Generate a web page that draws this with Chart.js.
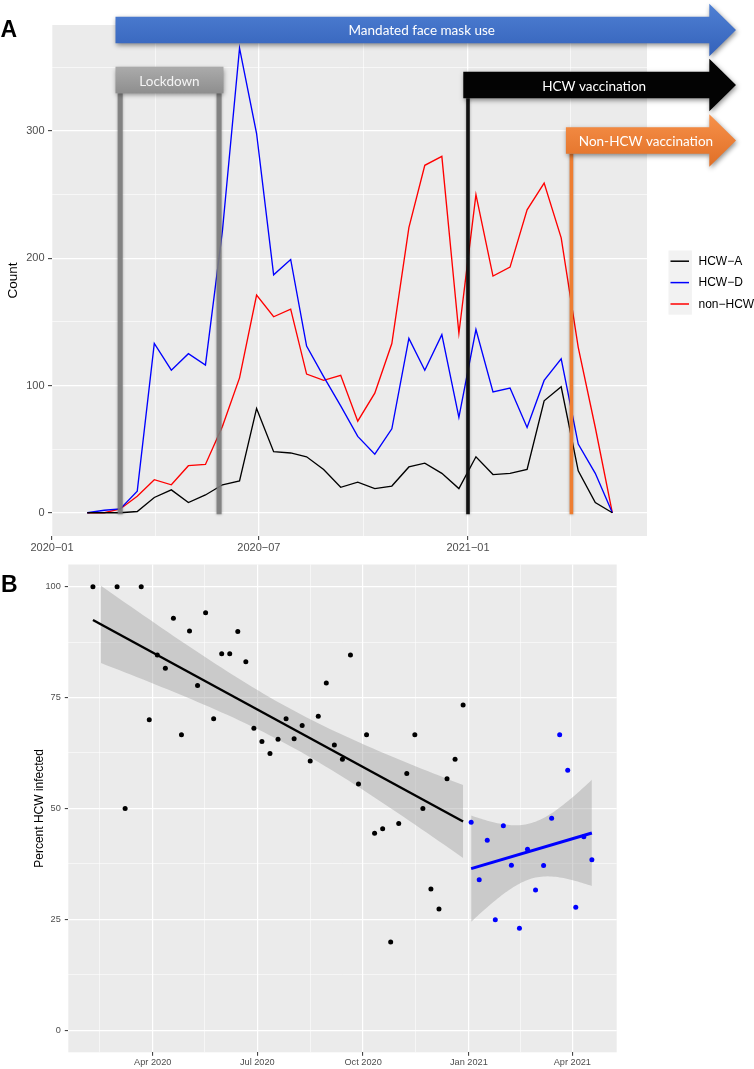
<!DOCTYPE html>
<html><head><meta charset="utf-8">
<script src="https://cdn.jsdelivr.net/npm/chart.js@4/dist/chart.umd.min.js"></script>
<style>
html,body{margin:0;padding:0;background:#fff;width:754px;height:1069px;overflow:hidden}
#cA{position:absolute;left:0;top:0}
#cB{position:absolute;left:0;top:555px}
</style></head><body>
<canvas id="cA" width="754" height="560"></canvas>
<canvas id="cB" width="754" height="514"></canvas>
<script>
// ---------- Panel A data ----------
const periodDates = ['2020-02-01','2020-02-16','2020-03-01','2020-03-16','2020-03-31','2020-04-15','2020-04-30','2020-05-15','2020-05-30','2020-06-14','2020-06-29','2020-07-14','2020-07-29','2020-08-12','2020-08-27','2020-09-11','2020-09-26','2020-10-11','2020-10-26','2020-11-10','2020-11-24','2020-12-09','2020-12-24','2021-01-08','2021-01-23','2021-02-07','2021-02-22','2021-03-09','2021-03-24','2021-04-08','2021-04-23','2021-05-08'];
const hcwA   = [0,0,0,1,12,18,8,14,22,25,82,48,47,44,34,20,24,19,21,36,39,31,19,44,30,31,34,88,99,33,8,0];
const hcwD   = [0,2,3,17,133,112,125,116,222,365,298,187,199,131,107,84,60,46,66,137,112,140,75,144,95,98,67,104,121,54,31,0];
const nonHcw = [0,0,3,13,26,22,37,38,68,106,171,154,160,109,104,108,72,94,133,224,273,280,141,250,186,193,238,259,216,130,67,0];
const seriesLabels = ['HCW\u2212A','HCW\u2212D','non\u2212HCW'];
const countMajor = [0,100,200,300];
const countMinor = [50,150,250,350];
const monthMajorDates  = ['2020-01-01','2020-07-01','2021-01-01'];
const monthMajorLabels = ['2020\u221201','2020\u221207','2021\u221201'];
const monthMinorDates  = ['2020-04-01','2020-10-01','2021-04-01'];
// events
const eventLabels = ['Mandated face mask use','Lockdown','HCW vaccination','Non-HCW vaccination'];
const lockdownDates = ['2020-03-01','2020-05-27'];
const hcwVaccDate = '2021-01-01';
const nonHcwVaccDate = '2021-04-02';

// ---------- Panel B data ----------
const preWeeks = ['2020-02-09','2020-03-01','2020-03-08','2020-03-22','2020-03-29','2020-04-05','2020-04-12','2020-04-19','2020-04-26','2020-05-03','2020-05-10','2020-05-17','2020-05-24','2020-05-31','2020-06-07','2020-06-14','2020-06-21','2020-06-28','2020-07-05','2020-07-12','2020-07-19','2020-07-26','2020-08-02','2020-08-09','2020-08-16','2020-08-23','2020-08-30','2020-09-06','2020-09-13','2020-09-20','2020-09-27','2020-10-04','2020-10-11','2020-10-18','2020-10-25','2020-11-01','2020-11-08','2020-11-15','2020-11-22','2020-11-29','2020-12-06','2020-12-13','2020-12-20','2020-12-27'];
const prePct = [100,100,50,100,70.0,84.6,81.6,92.9,66.6,90.0,77.7,94.1,70.2,84.9,84.9,89.9,83.1,68.1,65.1,62.4,65.6,70.2,65.7,68.7,60.7,70.8,78.3,64.3,61.1,84.6,55.5,66.6,44.4,45.4,19.9,46.6,57.9,66.6,50.0,31.8,27.3,56.7,61.1,73.3];
const postWeeks = ['2021-01-03','2021-01-10','2021-01-17','2021-01-24','2021-01-31','2021-02-07','2021-02-14','2021-02-21','2021-02-28','2021-03-07','2021-03-14','2021-03-21','2021-03-28','2021-04-04','2021-04-11','2021-04-18'];
const postPct = [46.9,33.9,42.8,24.9,46.1,37.2,23.0,40.8,31.6,37.1,47.8,66.6,58.6,27.7,43.6,38.4];
const preBandFrom = '2020-02-16';
const pctMajor = [0,25,50,75,100];
const pctMinor = [12.5,37.5,62.5,87.5];
const qMajorDates  = ['2020-04-01','2020-07-01','2020-10-01','2021-01-01','2021-04-01'];
const qMajorLabels = ['Apr 2020','Jul 2020','Oct 2020','Jan 2021','Apr 2021'];
const qMinorDates  = ['2020-02-15','2020-05-16','2020-08-16','2020-11-16','2021-02-15'];

// ---------- helpers ----------
const DAY0 = Date.UTC(2020,0,1);
function dayOf(s){const p=s.split('-').map(Number);return (Date.UTC(p[0],p[1]-1,p[2])-DAY0)/864e5;}
const FONT = "'Liberation Sans', Arial, Helvetica, sans-serif";
const TICKCOL = '#4d4d4d';

function tQuant(df){ // Cornish-Fisher expansion for t(0.975)
  const z=1.959964, z3=z*z*z, z5=z3*z*z, z7=z5*z*z;
  return z+(z3+z)/(4*df)+(5*z5+16*z3+3*z)/(96*df*df)+(3*z7+19*z5+17*z3-15*z)/(384*df*df*df);
}
function lmFit(xs, ys){
  const n=xs.length; let mx=0,my=0; for(let i=0;i<n;i++){mx+=xs[i];my+=ys[i];} mx/=n; my/=n;
  let sxx=0,sxy=0; for(let i=0;i<n;i++){sxx+=(xs[i]-mx)**2; sxy+=(xs[i]-mx)*(ys[i]-my);}
  const b=sxy/sxx, a=my-b*mx; let sse=0; for(let i=0;i<n;i++){const r=ys[i]-(a+b*xs[i]); sse+=r*r;}
  const s=Math.sqrt(sse/(n-2)), t=tQuant(n-2);
  const pred=x=>a+b*x, half=x=>t*s*Math.sqrt(1/n+(x-mx)**2/sxx);
  return {pred, half};
}
function band(fit, from, to){
  const up=[], lo=[]; const N=60;
  for(let k=0;k<=N;k++){const x=from+(to-from)*k/N; up.push({x,y:fit.pred(x)+fit.half(x)}); lo.push({x,y:fit.pred(x)-fit.half(x)});}
  return {up,lo};
}
const bgPlugin = {id:'bg', beforeDraw(chart){const a=chart.chartArea,c=chart.ctx;c.save();c.fillStyle='#ebebeb';c.fillRect(a.left,a.top,a.right-a.left,a.bottom-a.top);c.restore();}};

function isIn(v, arr){return arr.some(a=>Math.abs(a-v)<1e-6);}

// ---------- Chart A ----------
const aMajX = monthMajorDates.map(dayOf), aMinX = monthMinorDates.map(dayOf);
function arrowPath(c, x0, cy, tip, bodyH, headH, headL){
  c.beginPath(); c.moveTo(x0, cy-bodyH/2); c.lineTo(tip-headL, cy-bodyH/2); c.lineTo(tip-headL, cy-headH/2);
  c.lineTo(tip, cy); c.lineTo(tip-headL, cy+headH/2); c.lineTo(tip-headL, cy+bodyH/2); c.lineTo(x0, cy+bodyH/2); c.closePath();
}
function grad(c, y0, y1, cTop, cBot){const g=c.createLinearGradient(0,y0,0,y1); g.addColorStop(0,cTop); g.addColorStop(1,cBot); return g;}
const annotPlugin = {id:'annot', afterDatasetsDraw(chart){
  const c=chart.ctx, xs=chart.scales.x, ys=chart.scales.y, area=chart.chartArea;
  const X=d=>xs.getPixelForValue(dayOf(d));
  const yBase=ys.getPixelForValue(0)+1.5;
  const tip=chart.width-18, bodyH=26.6, headH=52.6, headL=26.7;
  const cyMask=area.top+5, cyLock=area.top+55, cyHcw=area.top+60, cyNon=area.top+115.5;
  c.save();
  // vertical lines
  c.shadowColor='rgba(0,0,0,0.35)'; c.shadowBlur=3;
  c.lineCap='butt';
  c.strokeStyle='rgba(125,125,125,0.9)'; c.lineWidth=5;
  lockdownDates.forEach(d=>{c.beginPath(); c.moveTo(X(d), cyLock+bodyH/2); c.lineTo(X(d), yBase); c.stroke();});
  c.strokeStyle='#111'; c.lineWidth=3.6;
  c.beginPath(); c.moveTo(X(hcwVaccDate), cyHcw+bodyH/2); c.lineTo(X(hcwVaccDate), yBase); c.stroke();
  c.strokeStyle='#ee7d31'; c.lineWidth=3.6;
  c.beginPath(); c.moveTo(X(nonHcwVaccDate), cyNon+bodyH/2); c.lineTo(X(nonHcwVaccDate), yBase); c.stroke();
  // boxes / arrows
  c.shadowColor='rgba(0,0,0,0.45)'; c.shadowBlur=5; c.shadowOffsetX=1; c.shadowOffsetY=2;
  const x0Lock=X(lockdownDates[0])-4.7, x1Lock=X(lockdownDates[1])+4.4;
  // mask
  arrowPath(c, x0Lock, cyMask, tip, bodyH, headH, headL);
  c.fillStyle=grad(c, cyMask-headH/2, cyMask+headH/2, '#4f80d4', '#3462ba'); c.fill();
  // lockdown
  c.fillStyle=grad(c, cyLock-bodyH/2, cyLock+bodyH/2, '#ababab', '#8e8e8e');
  c.fillRect(x0Lock, cyLock-bodyH/2, x1Lock-x0Lock, bodyH);
  // HCW vacc
  const x0H=X(hcwVaccDate)-4.7;
  arrowPath(c, x0H, cyHcw, tip, bodyH, headH, headL); c.fillStyle='#030303'; c.fill();
  const x0N=X(nonHcwVaccDate)-5.5;
  arrowPath(c, x0N, cyNon, tip, bodyH, headH, headL);
  c.fillStyle=grad(c, cyNon-headH/2, cyNon+headH/2, '#f7914a', '#e06f26'); c.fill();
  c.restore();
  // texts
  c.save(); c.fillStyle='#fff'; c.textBaseline='middle'; c.textAlign='center';
  c.font="13.5px Lato, 'Open Sans', sans-serif";
  c.fillText(eventLabels[0], (x0Lock+tip)/2-4, cyMask+1);
  c.fillStyle='#f4f4f4';
  c.fillText(eventLabels[1], (x0Lock+x1Lock)/2, cyLock+1.5);
  c.fillStyle='#fff';
  c.fillText(eventLabels[2], (x0H+tip)/2-5.5, cyHcw+2);
  c.fillText(eventLabels[3], (x0N+tip)/2-5, cyNon+1);
  c.restore();
}};
const legendA = {id:'legA', afterDraw(chart){
  const c=chart.ctx, area=chart.chartArea;
  const cx=(area.top+area.bottom)/2; const top=cx-30, rowH=21.4;
  const lx=area.right+21.5;
  const cols=['#000000','#0000ff','#ff0000'];
  c.save(); c.fillStyle='#f2f2f2'; c.fillRect(lx, top, 23.4, rowH*3);
  c.font='12px '+FONT; c.textBaseline='middle'; c.textAlign='left';
  seriesLabels.forEach((l,i)=>{const y=top+rowH*(i+0.5);
    c.strokeStyle=cols[i]; c.lineWidth=1.5; c.beginPath(); c.moveTo(lx+2,y); c.lineTo(lx+20.5,y); c.stroke();
    c.fillStyle='#000'; c.fillText(l, lx+30, y+0.5);});
  // axis title
  c.translate(12.5, cx); c.rotate(-Math.PI/2); c.textAlign='center'; c.font='13.5px '+FONT; c.fillText('Count',0,0.5);
  c.restore();
  c.save(); c.font='bold 23px '+FONT; c.fillStyle='#000'; c.textBaseline='alphabetic'; c.fillText('A',0.5,36.5); c.restore();
}};
const lineDs = (label, vals, col) => ({label, data: periodDates.map((d,i)=>({x:dayOf(d), y:vals[i]})), borderColor:col, borderWidth:1.35, pointRadius:0, tension:0, fill:false});
new Chart(document.getElementById('cA'), {
  type:'line',
  data:{datasets:[lineDs(seriesLabels[0],hcwA,'#000000'), lineDs(seriesLabels[1],hcwD,'#0000ff'), lineDs(seriesLabels[2],nonHcw,'#ff0000')]},
  options:{responsive:false, animation:false, events:[],
    layout:{padding:{left:0,right:107,top:25,bottom:0}},
    plugins:{legend:{display:false}, tooltip:{enabled:false}},
    scales:{
      x:{type:'linear', min:0, max:523.5,
        afterFit(s){s.height=24;},
        afterBuildTicks(s){s.ticks=aMajX.concat(aMinX).sort((p,q)=>p-q).map(v=>({value:v}));},
        ticks:{autoSkip:false, maxRotation:0, minRotation:0, padding:1, color:TICKCOL, font:{family:FONT,size:11},
          callback(v){const i=aMajX.findIndex(a=>Math.abs(a-v)<1e-6); return i>=0?monthMajorLabels[i]:'';}},
        grid:{color:'#ffffff', lineWidth:ctx=>(ctx.tick&&isIn(ctx.tick.value,aMajX))?1.3:0.6,
          tickColor:ctx=>(ctx.tick&&isIn(ctx.tick.value,aMajX))?'#333333':'rgba(0,0,0,0)', tickLength:4, tickWidth:1},
        border:{display:false}},
      y:{type:'linear', min:-18.25, max:383.25,
        afterFit(s){s.width=52;},
        afterBuildTicks(s){s.ticks=countMajor.concat(countMinor).sort((p,q)=>p-q).map(v=>({value:v}));},
        ticks:{padding:3.5, color:TICKCOL, font:{family:FONT,size:11}, callback(v){return isIn(v,countMajor)?String(v):'';}},
        grid:{color:'#ffffff', lineWidth:ctx=>(ctx.tick&&isIn(ctx.tick.value,countMajor))?1.3:0.6,
          tickColor:ctx=>(ctx.tick&&isIn(ctx.tick.value,countMajor))?'#333333':'rgba(0,0,0,0)', tickLength:4, tickWidth:1},
        border:{display:false}}
    }
  },
  plugins:[bgPlugin, annotPlugin, legendA]
});

// ---------- Chart B ----------
const preX = preWeeks.map(dayOf), postX = postWeeks.map(dayOf);
const fitPre = lmFit(preX, prePct), fitPost = lmFit(postX, postPct);
const bPre = band(fitPre, dayOf(preBandFrom), preX[preX.length-1]);
const bPost = band(fitPost, postX[0], postX[postX.length-1]);
const bMajX = qMajorDates.map(dayOf), bMinX = qMinorDates.map(dayOf);
const bandStyle = {showLine:true, pointRadius:0, borderColor:'rgba(0,0,0,0)', borderWidth:0, backgroundColor:'rgba(153,153,153,0.4)', order:3};
const labelsB = {id:'labB', afterDraw(chart){
  const c=chart.ctx, area=chart.chartArea;
  c.save(); c.fillStyle='#000'; c.font='12px '+FONT; c.textAlign='center'; c.textBaseline='middle';
  c.translate(39.5,(area.top+area.bottom)/2); c.rotate(-Math.PI/2); c.fillText('Percent HCW infected',0,0); c.restore();
  c.save(); c.font='bold 23px '+FONT; c.fillStyle='#000'; c.fillText('B',1,36.5); c.restore();
}};
new Chart(document.getElementById('cB'), {
  type:'scatter',
  data:{datasets:[
    Object.assign({data:bPre.up, fill:'+1'}, bandStyle),
    Object.assign({data:bPre.lo, fill:false}, bandStyle),
    Object.assign({data:bPost.up, fill:'+1'}, bandStyle),
    Object.assign({data:bPost.lo, fill:false}, bandStyle),
    {data:[preX[0], preX[preX.length-1]].map(x=>({x, y:fitPre.pred(x)})), showLine:true, borderColor:'#000', borderWidth:2.4, pointRadius:0, order:2},
    {data:[postX[0], postX[postX.length-1]].map(x=>({x, y:fitPost.pred(x)})), showLine:true, borderColor:'#0000ff', borderWidth:3, pointRadius:0, order:2},
    {data:preX.map((x,i)=>({x, y:prePct[i]})), pointRadius:2.5, pointBackgroundColor:'#000', pointBorderWidth:0, pointBorderColor:'#000', order:1},
    {data:postX.map((x,i)=>({x, y:postPct[i]})), pointRadius:2.5, pointBackgroundColor:'#0000ff', pointBorderWidth:0, pointBorderColor:'#0000ff', order:1}
  ]},
  options:{responsive:false, animation:false, events:[],
    layout:{padding:{left:0,right:137.3,top:9,bottom:0}},
    plugins:{legend:{display:false}, tooltip:{enabled:false}},
    scales:{
      x:{type:'linear', min:17.57, max:494.6,
        afterFit(s){s.height=16.7;},
        afterBuildTicks(s){s.ticks=bMajX.concat(bMinX).sort((p,q)=>p-q).map(v=>({value:v}));},
        ticks:{autoSkip:false, maxRotation:0, minRotation:0, padding:1, color:TICKCOL, font:{family:FONT,size:9.2},
          callback(v){const i=bMajX.findIndex(a=>Math.abs(a-v)<1e-6); return i>=0?qMajorLabels[i]:'';}},
        grid:{color:'#ffffff', lineWidth:ctx=>(ctx.tick&&isIn(ctx.tick.value,bMajX))?1.2:0.55,
          tickColor:ctx=>(ctx.tick&&isIn(ctx.tick.value,bMajX))?'#333333':'rgba(0,0,0,0)', tickLength:3.5, tickWidth:1},
        border:{display:false}},
      y:{type:'linear', min:-5, max:105,
        afterFit(s){s.width=68.3;},
        afterBuildTicks(s){s.ticks=pctMajor.concat(pctMinor).sort((p,q)=>p-q).map(v=>({value:v}));},
        ticks:{padding:4, color:TICKCOL, font:{family:FONT,size:9.2}, callback(v){return isIn(v,pctMajor)?String(v):'';}},
        grid:{color:'#ffffff', lineWidth:ctx=>(ctx.tick&&isIn(ctx.tick.value,pctMajor))?1.2:0.55,
          tickColor:ctx=>(ctx.tick&&isIn(ctx.tick.value,pctMajor))?'#333333':'rgba(0,0,0,0)', tickLength:3.5, tickWidth:1},
        border:{display:false}}
    }
  },
  plugins:[bgPlugin, labelsB]
});
</script>
</body></html>
